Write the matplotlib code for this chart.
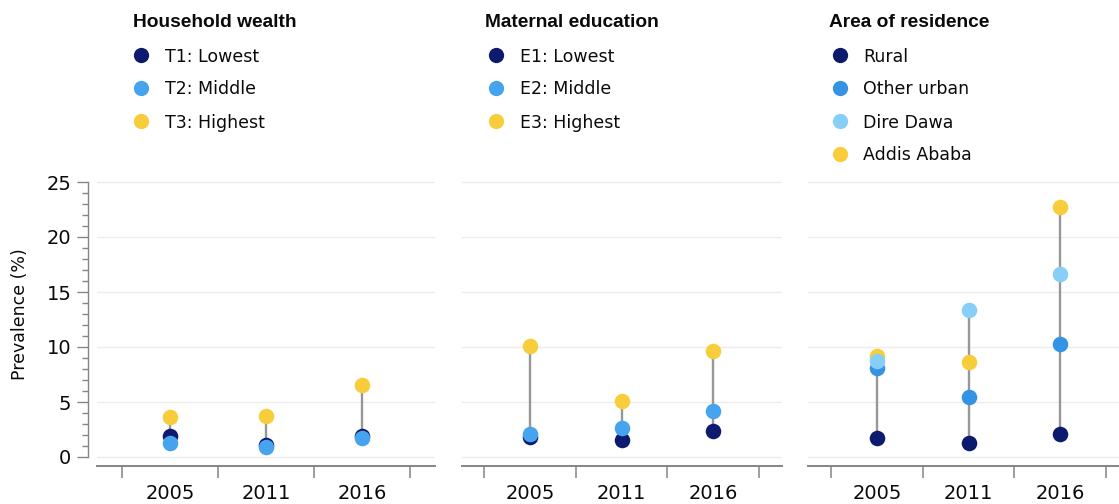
import matplotlib
matplotlib.use("Agg")
import matplotlib.pyplot as plt
from matplotlib.ticker import MultipleLocator, FixedLocator, NullFormatter

# ---------------- data ----------------
years = ["2005", "2011", "2016"]

wealth_title = "Household wealth"
wealth_labels = ["T1: Lowest", "T2: Middle", "T3: Highest"]
wealth_T1 = [1.9, 1.1, 1.9]
wealth_T2 = [1.3, 0.9, 1.7]
wealth_T3 = [3.6, 3.75, 6.55]

edu_title = "Maternal education"
edu_labels = ["E1: Lowest", "E2: Middle", "E3: Highest"]
edu_E1 = [1.8, 1.55, 2.35]
edu_E2 = [2.05, 2.6, 4.2]
edu_E3 = [10.1, 5.05, 9.6]

res_title = "Area of residence"
res_labels = ["Rural", "Other urban", "Dire Dawa", "Addis Ababa"]
res_rural = [1.75, 1.25, 2.05]
res_other = [8.1, 5.45, 10.25]
res_dire = [8.7, 13.4, 16.6]
res_addis = [9.2, 8.6, 22.75]

y_ticks = [0, 5, 10, 15, 20, 25]
y_label = "Prevalence (%)"

NAVY = "#0d1b6e"
BLUE = "#46a3ee"
BLUE2 = "#3593e4"
LIGHT = "#87cff8"
YELLOW = "#f8cd3c"

panels = [
    dict(title=wealth_title, labels=wealth_labels,
         series=[wealth_T1, wealth_T2, wealth_T3],
         colors=[NAVY, BLUE, YELLOW], zorders=[3, 5, 4],
         left=97, right=435, tick0=122, tick3=410,
         leg_title_x=133, leg_marker_x=141, leg_text_x=165),
    dict(title=edu_title, labels=edu_labels,
         series=[edu_E1, edu_E2, edu_E3],
         colors=[NAVY, BLUE, YELLOW], zorders=[3, 5, 4],
         left=462, right=782, tick0=484, tick3=759,
         leg_title_x=485, leg_marker_x=496, leg_text_x=520),
    dict(title=res_title, labels=res_labels,
         series=[res_rural, res_other, res_dire, res_addis],
         colors=[NAVY, BLUE2, LIGHT, YELLOW], zorders=[3, 5, 6, 4],
         left=808, right=1125, tick0=831, tick3=1106,
         leg_title_x=829, leg_marker_x=840, leg_text_x=863),
]

W, H = 1119, 504
fig = plt.figure(figsize=(W / 100, H / 100), dpi=100)

REG = "DejaVu Sans"
BOLD = "Liberation Sans"

# y geometry (pixels from top)
y0_px = 457.0       # value 0
px_per_unit = 11.0
ax_bottom_px = 466.0
ymax = 25.3
ax_top_px = y0_px - ymax * px_per_unit
ymin = -(ax_bottom_px - y0_px) / px_per_unit

GRID = "#ececec"
AXC = "#858585"
LINEC = "#979797"
TXT = "#0a0a0a"

leg_rows = [55, 88, 121, 154]

for i, p in enumerate(panels):
    left, right = p["left"], p["right"]
    ax = fig.add_axes([left / W, 1 - ax_bottom_px / H,
                       (right - left) / W, (ax_bottom_px - ax_top_px) / H])
    sp = (p["tick3"] - p["tick0"]) / 3.0
    xlo = -0.5 - (p["tick0"] - left) / sp
    xhi = 2.5 + (right - p["tick3"]) / sp
    ax.set_xlim(xlo, xhi)
    ax.set_ylim(ymin, ymax)

    xs = list(range(len(years)))
    # connecting lines
    lows = [min(s[j] for s in p["series"]) for j in xs]
    highs = [max(s[j] for s in p["series"]) for j in xs]
    ax.vlines(xs, lows, highs, color=LINEC, lw=1.7, zorder=2)
    for s, c, z in zip(p["series"], p["colors"], p["zorders"]):
        ax.plot(xs, s, "o", ls="none", color=c, ms=11.2, mec="none", zorder=z)

    # grid
    ax.set_yticks(y_ticks)
    ax.yaxis.grid(True, color=GRID, lw=1.0, zorder=0)
    ax.set_axisbelow(True)

    # x axis
    ax.xaxis.set_major_locator(FixedLocator([-0.5, 0.5, 1.5, 2.5]))
    ax.xaxis.set_major_formatter(NullFormatter())
    ax.xaxis.set_minor_locator(FixedLocator(xs))
    ax.set_xticklabels(years, minor=True)
    ax.tick_params(axis="x", which="major", length=8.6, width=1.1,
                   color=AXC, direction="out")
    ax.tick_params(axis="x", which="minor", length=0, pad=13.0,
                   labelsize=14)
    for lab in ax.get_xticklabels(minor=True):
        lab.set_fontfamily(REG)
        lab.set_color(TXT)

    for s in ["top", "right"]:
        ax.spines[s].set_visible(False)
    ax.spines["bottom"].set_color(AXC)
    ax.spines["bottom"].set_linewidth(1.4)

    if i == 0:
        ax.spines["left"].set_position(("outward", 6.5))
        ax.spines["left"].set_bounds(0, 25)
        ax.spines["left"].set_color(AXC)
        ax.spines["left"].set_linewidth(1.0)
        ax.yaxis.set_minor_locator(MultipleLocator(1))
        ax.tick_params(axis="y", which="major", length=8, width=1.0,
                       color=AXC, labelsize=14, pad=4)
        ax.tick_params(axis="y", which="minor", length=4.3, width=1.0,
                       color=AXC)
        for lab in ax.get_yticklabels():
            lab.set_fontfamily(REG)
            lab.set_color(TXT)
        ax.yaxis.grid(False, which="minor")
    else:
        ax.spines["left"].set_visible(False)
        ax.tick_params(axis="y", which="both", length=0, labelleft=False)

    # legend (manual, figure coordinates)
    fig.text(p["leg_title_x"] / W, 1 - 27 / H, p["title"], fontfamily=BOLD,
             fontweight="bold", fontsize=13.8, color=TXT,
             ha="left", va="baseline")
    for r, (lab, c) in enumerate(zip(p["labels"], p["colors"])):
        yy = leg_rows[r]
        ax.plot([p["leg_marker_x"] / W], [1 - yy / H], "o", color=c, ms=11,
                mec="none", transform=fig.transFigure, clip_on=False)
        fig.text(p["leg_text_x"] / W, 1 - (yy + 6.5) / H, lab, fontfamily=REG,
                 fontsize=12.5, color=TXT, ha="left", va="baseline")

fig.text(20 / W, 1 - 314 / H, y_label, rotation=90, fontfamily=REG,
         fontsize=12.5, color=TXT, ha="center", va="center")

fig.savefig("out.png", dpi=100)
